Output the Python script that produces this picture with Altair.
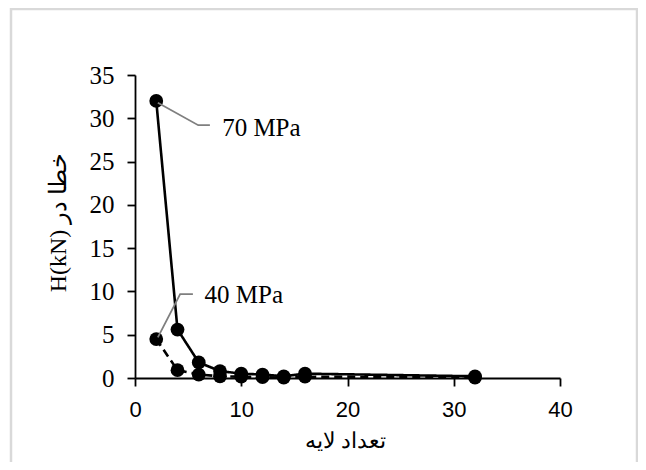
import altair as alt
import pandas as pd

# --- data ---
layers = [2, 4, 6, 8, 10, 12, 14, 16, 32]
h_70 = [32.0, 5.6, 1.8, 0.8, 0.5, 0.4, 0.2, 0.5, 0.2]
h_40 = [4.5, 0.9, 0.4, 0.2, 0.15, 0.1, 0.05, 0.15, 0.05]
series_names = ["70 MPa", "40 MPa"]

x_ticks = [0, 10, 20, 30, 40]
y_ticks = [0, 5, 10, 15, 20, 25, 30, 35]

# annotation leader lines (data units) and label anchors
lead_70_x = [2.15, 5.95, 7.05]
lead_70_y = [31.8, 29.2, 29.2]
lead_40_x = [2.15, 4.25, 5.45]
lead_40_y = [4.7, 9.7, 9.7]
label_x = [8.2, 6.55]
label_y = [28.9, 9.6]

x_title = "تعداد لایه"
y_title = "H(kN) خطا در"

df = pd.DataFrame({
    "x": layers * 2,
    "y": h_70 + h_40,
    "s": [series_names[0]] * len(layers) + [series_names[1]] * len(layers),
})
lead_df = pd.DataFrame({
    "x": lead_70_x + lead_40_x,
    "y": lead_70_y + lead_40_y,
    "s": [series_names[0]] * 3 + [series_names[1]] * 3,
    "o": [0, 1, 2] * 2,
})
lab_df = pd.DataFrame({"x": label_x, "y": label_y, "t": series_names})

xs = alt.Scale(domain=[0, 40], nice=False)
ys = alt.Scale(domain=[0, 35], nice=False)

x_enc = alt.X("x:Q", scale=xs, axis=alt.Axis(
    values=x_ticks, title=x_title, labelFont="Liberation Sans", labelFontSize=22,
    labelPadding=13, labelFlush=False, labelOverlap=False,
    titleFont="Liberation Serif", titleFontSize=22,
    titleX=210, titleY=62, titleBaseline="middle", titleFontWeight="normal"))
y_enc = alt.Y("y:Q", scale=ys, axis=alt.Axis(
    values=y_ticks, title=y_title, labelFont="Liberation Serif", labelFontSize=25,
    labelPadding=13, labelFlush=False, labelOverlap=False,
    titleFont="Liberation Serif", titleFontSize=24,
    titleX=-77, titleY=147, titleBaseline="middle", titleFontWeight="normal"))

base = alt.Chart(df)
lines = base.mark_line(color="black", strokeWidth=2.6).encode(
    x=x_enc, y=y_enc,
    detail="s:N",
    strokeDash=alt.StrokeDash("s:N", scale=alt.Scale(
        domain=series_names, range=[[1, 0], [8, 5]]), legend=None),
)
points = base.mark_circle(color="black", size=190, opacity=1).encode(
    x=alt.X("x:Q", scale=xs), y=alt.Y("y:Q", scale=ys), detail="s:N")

leaders = alt.Chart(lead_df).mark_line(color="#7f7f7f", strokeWidth=1.8).encode(
    x=alt.X("x:Q", scale=xs), y=alt.Y("y:Q", scale=ys), detail="s:N", order="o:Q")

labels = alt.Chart(lab_df).mark_text(
    font="Liberation Serif", fontSize=25, align="left", baseline="middle", color="#000000"
).encode(x=alt.X("x:Q", scale=xs), y=alt.Y("y:Q", scale=ys), text="t:N")

frame = alt.Chart(pd.DataFrame({"a": [0]})).mark_rect(
    fillOpacity=0, stroke="#d9d9d9", strokeWidth=2.5
).encode(x=alt.value(-124), x2=alt.value(502), y=alt.value(-66), y2=alt.value(420))

chart = alt.layer(frame, lines, points, leaders, labels).properties(
    width=425, height=303,
    autosize=alt.AutoSizeParams(type="none"),
    padding={"left": 127, "top": 67, "right": 78, "bottom": 84},
).configure_view(stroke=None).configure_axis(
    grid=False, domainColor="black", domainWidth=1.8, tickColor="black",
    tickWidth=1.8, tickSize=8, labelColor="#000000", titleColor="#000000",
)

chart.save("out.html", embed_options={"renderer": "svg", "actions": False})
